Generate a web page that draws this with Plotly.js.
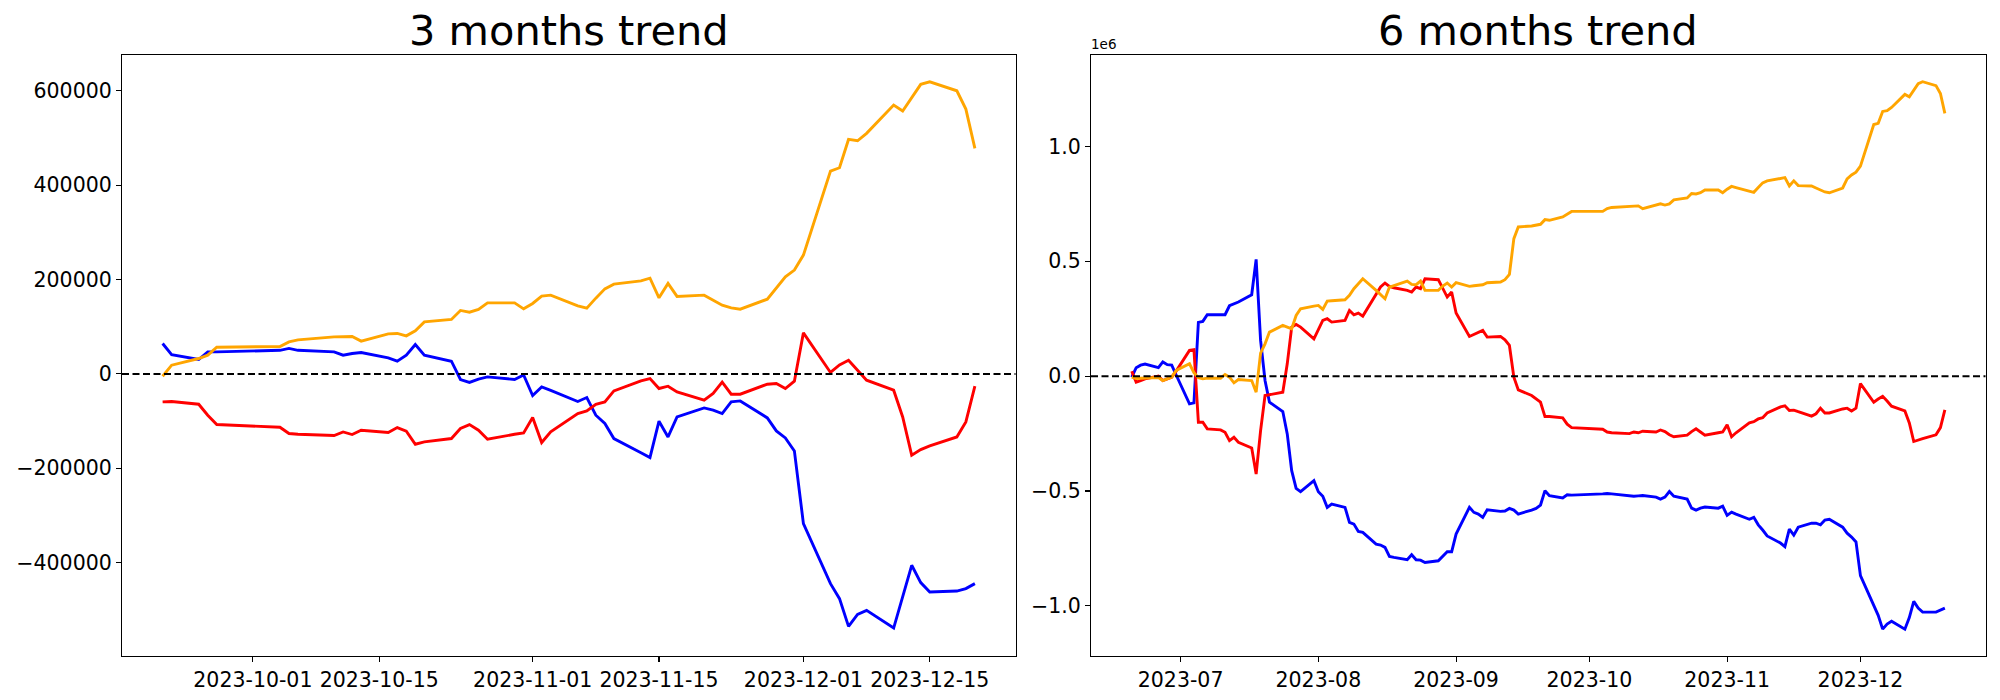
<!DOCTYPE html>
<html><head><meta charset="utf-8">
<script src="https://cdn.plot.ly/plotly-3.0.1.min.js"></script>
<style>html,body{margin:0;padding:0;background:#fff}#chart{width:2000px;height:700px}</style>
</head><body><div id="chart"></div><script>
// ---------- 3 months ----------
const dates3 = ['2023-09-21','2023-09-22','2023-09-25','2023-09-26','2023-09-27','2023-10-04','2023-10-05','2023-10-06','2023-10-10','2023-10-11','2023-10-12','2023-10-13','2023-10-16','2023-10-17','2023-10-18','2023-10-19','2023-10-20','2023-10-23','2023-10-24','2023-10-25','2023-10-26','2023-10-27','2023-10-30','2023-10-31','2023-11-01','2023-11-02','2023-11-03','2023-11-06','2023-11-07','2023-11-08','2023-11-09','2023-11-10','2023-11-13','2023-11-14','2023-11-15','2023-11-16','2023-11-17','2023-11-20','2023-11-21','2023-11-22','2023-11-23','2023-11-24','2023-11-27','2023-11-28','2023-11-29','2023-11-30','2023-12-01','2023-12-04','2023-12-05','2023-12-06','2023-12-07','2023-12-08','2023-12-11','2023-12-12','2023-12-13','2023-12-14','2023-12-15','2023-12-18','2023-12-19','2023-12-20'];
const blue3 = [64500,41000,30500,46700,46700,50000,54000,50000,46700,39700,43200,45300,34000,27000,39700,62300,39700,26900,-11900,-18200,-11200,-6400,-11900,-2100,-45800,-27600,-35000,-58500,-50100,-87600,-105200,-137000,-167000,-177300,-100300,-133600,-91200,-72100,-77000,-84000,-59400,-57300,-93300,-120900,-135700,-163300,-317300,-444600,-476400,-535100,-509700,-501200,-538700,-472000,-405700,-442400,-462400,-460300,-455200,-444600];
const orange3 = [-4900,18500,32600,39700,56600,58000,67900,72100,78500,79300,79300,69400,84800,85700,80600,91200,110300,115400,134500,130900,136600,150600,150600,137900,149300,164800,166900,144200,139400,160600,180300,190300,197300,203000,161200,191700,164200,166900,156300,145700,140000,137200,158400,181100,205700,220000,251800,430000,437000,497000,494200,509900,569900,557200,585000,613800,619300,600200,561400,478100];
const red3 = [-59400,-58500,-64300,-87600,-107400,-113000,-126400,-127900,-130700,-123000,-128500,-119400,-124300,-113700,-121500,-149100,-144200,-137000,-115800,-107400,-119400,-138500,-128000,-125100,-92500,-145500,-123000,-84000,-78500,-64300,-59400,-36100,-14800,-9800,-31000,-26100,-38200,-55800,-41600,-17600,-43100,-43100,-21800,-20400,-31000,-15500,87000,3000,19000,29000,7800,-13400,-34600,-91200,-172400,-160400,-152700,-133600,-101800,-26100];
const xticks3 = ['2023-10-01','2023-10-15','2023-11-01','2023-11-15','2023-12-01','2023-12-15'];
const xtickText3 = ['2023-10-01','2023-10-15','2023-11-01','2023-11-15','2023-12-01','2023-12-15'];
const yticks3 = [-400000,-200000,0,200000,400000,600000];
const ytickText3 = ['\u2212400000','\u2212200000','0','200000','400000','600000'];

// ---------- 6 months ----------
const dates6 = ['2023-06-20','2023-06-21','2023-06-22','2023-06-23','2023-06-26','2023-06-27','2023-06-28','2023-06-29','2023-06-30',
'2023-07-03','2023-07-04','2023-07-05','2023-07-06','2023-07-07','2023-07-10','2023-07-11','2023-07-12','2023-07-13','2023-07-14','2023-07-17','2023-07-18','2023-07-19','2023-07-20','2023-07-21','2023-07-24','2023-07-25','2023-07-26','2023-07-27','2023-07-28','2023-07-31',
'2023-08-01','2023-08-02','2023-08-03','2023-08-04','2023-08-07','2023-08-08','2023-08-09','2023-08-10','2023-08-11','2023-08-14','2023-08-15','2023-08-16','2023-08-17','2023-08-18','2023-08-21','2023-08-22','2023-08-23','2023-08-24','2023-08-25','2023-08-28','2023-08-29','2023-08-30','2023-08-31',
'2023-09-01','2023-09-04','2023-09-05','2023-09-06','2023-09-07','2023-09-08','2023-09-11','2023-09-12','2023-09-13','2023-09-14','2023-09-15','2023-09-18','2023-09-19','2023-09-20','2023-09-21','2023-09-22','2023-09-25','2023-09-26','2023-09-27',
'2023-10-04','2023-10-05','2023-10-06','2023-10-10','2023-10-11','2023-10-12','2023-10-13','2023-10-16','2023-10-17','2023-10-18','2023-10-19','2023-10-20','2023-10-23','2023-10-24','2023-10-25','2023-10-26','2023-10-27','2023-10-30','2023-10-31',
'2023-11-01','2023-11-02','2023-11-03','2023-11-06','2023-11-07','2023-11-08','2023-11-09','2023-11-10','2023-11-13','2023-11-14','2023-11-15','2023-11-16','2023-11-17','2023-11-20','2023-11-21','2023-11-22','2023-11-23','2023-11-24','2023-11-27','2023-11-28','2023-11-29','2023-11-30',
'2023-12-01','2023-12-04','2023-12-05','2023-12-06','2023-12-07','2023-12-08','2023-12-11','2023-12-12','2023-12-13','2023-12-14','2023-12-15','2023-12-18','2023-12-19','2023-12-20'];
const blue6 = [-4400,37000,48000,53000,37000,62000,50000,48000,5000,
-120400,-116100,234000,238400,267500,267400,267400,306600,315300,322600,354500,508600,155500,-18900,-113300,-154000,-251400,-411200,-488200,-502700,-454900,
-502700,-523000,-571000,-556500,-571000,-636400,-643700,-675600,-680000,-730800,-735200,-745400,-784600,-789000,-799100,-777300,-799100,-800600,-810800,-803500,-784600,-764300,-764300,
-687300,-571000,-592800,-600000,-614600,-581300,-588600,-587100,-575500,-582800,-600200,-582800,-575500,-560900,-498400,-520200,-530400,-516000,-517600,
-512400,-510700,-512400,-519300,-522700,-521000,-519300,-526200,-534800,-526200,-502100,-522700,-534800,-574600,-583200,-574600,-569400,-574600,-566000,
-605700,-591900,-600500,-623000,-614300,-647100,-669600,-695500,-726500,-742000,-666000,-691900,-657400,-640100,-640100,-647000,-626300,-622800,-657400,-683300,-700500,-721300,
-868100,-1002800,-1040800,-1101200,-1078800,-1066700,-1101200,-1051000,-980400,-1009700,-1027000,-1027000,-1018300,-1009700];
const orange6 = [-4400,-10000,-9000,-8000,-6000,-19000,-10000,-4000,25000,
54000,15000,-7000,-11700,-8700,-8700,7300,-4400,-29100,-14500,-18900,-69700,100300,140900,191800,220900,213600,206300,264400,293500,305100,
308000,290600,326900,328400,332700,351600,380700,402500,424300,373400,356000,337100,387900,395200,414100,399600,398100,414100,373400,373400,392300,405400,387900,
406800,390900,393800,395200,398100,406800,409700,419900,443200,598600,649500,653800,656700,661100,681400,678500,693100,704000,717200,
717200,729300,734500,739700,740500,741400,729300,744800,750000,744800,750000,767300,775900,794900,793200,798400,810500,810500,798400,
813900,826000,820800,807000,800100,820800,841500,850200,858800,864000,827700,850200,829500,827700,819100,808700,801800,798400,819100,858800,876100,888200,
914100,1095400,1100600,1152400,1155900,1169700,1226700,1216300,1247400,1273300,1281900,1264700,1230200,1143900];
const red6 = [21800,-26100,-19000,-11700,0,-19000,-11700,-4400,22000,
112000,115000,-200500,-200500,-229300,-233900,-244100,-280400,-265900,-287700,-312400,-425700,-236800,-84300,-79900,-69700,53800,213600,225200,213600,162700,
203400,242700,249900,235400,242700,286200,267400,274600,261500,358900,388000,405400,390900,385000,373400,366200,388000,380700,424300,419900,380700,344400,366200,
274600,172900,181600,191800,199100,170000,172900,158400,133700,-4400,-59600,-84300,-98800,-113300,-175800,-175800,-181600,-209000,-224000,
-230900,-243000,-246400,-249900,-243000,-246400,-239500,-243000,-234300,-241300,-255100,-263700,-256800,-241300,-229200,-243000,-256800,-246400,-243000,
-211900,-263700,-246400,-203300,-198100,-186000,-180800,-160100,-134000,-128900,-149600,-147900,-154800,-173900,-163500,-139300,-160100,-160100,-142800,-139300,-151400,-139300,
-32300,-113400,-99600,-87500,-108200,-130700,-151400,-203300,-284400,-277500,-272300,-255100,-224000,-146300];
const xticks6 = ['2023-07-01','2023-08-01','2023-09-01','2023-10-01','2023-11-01','2023-12-01'];
const xtickText6 = ['2023-07','2023-08','2023-09','2023-10','2023-11','2023-12'];
const yticks6 = [-1000000,-500000,0,500000,1000000];
const ytickText6 = ['\u22121.0','\u22120.5','0.0','0.5','1.0'];

const titles = ['3 months trend','6 months trend'];
const seriesColors = ['blue','red','orange'];

const FONT = 'DejaVu Sans, Liberation Sans, sans-serif';
const LW = 2.9;

function mk(x, y, color, xa, ya) {
  return {x: x, y: y, type: 'scatter', mode: 'lines', line: {color: color, width: LW}, xaxis: xa, yaxis: ya, hoverinfo: 'skip', showlegend: false};
}
const traces = [
  mk(dates3, blue3, seriesColors[0], 'x', 'y'),
  mk(dates3, red3, seriesColors[1], 'x', 'y'),
  mk(dates3, orange3, seriesColors[2], 'x', 'y'),
  mk(dates6, blue6, seriesColors[0], 'x2', 'y2'),
  mk(dates6, red6, seriesColors[1], 'x2', 'y2'),
  mk(dates6, orange6, seriesColors[2], 'x2', 'y2')
];

const axBase = {
  showline: true, mirror: true, linecolor: 'black', linewidth: 1.1,
  ticks: 'outside', ticklen: 5, tickwidth: 1.1, tickcolor: 'black',
  showgrid: false, zeroline: false, automargin: false,
  tickfont: {family: FONT, size: 20.5, color: 'black'}
};
const yDom = [1 - 656/700, 1 - 55/700];

const layout = {
  width: 2000, height: 700,
  margin: {l: 0, r: 0, t: 0, b: 0},
  paper_bgcolor: 'white', plot_bgcolor: 'white',
  font: {family: FONT, color: 'black'},
  showlegend: false,
  xaxis: Object.assign({}, axBase, {type: 'date', domain: [122/2000, 1015.5/2000], range: ['2023-09-16 12:00', '2023-12-24 12:00'], tickvals: xticks3, ticktext: xtickText3, anchor: 'y'}),
  yaxis: Object.assign({}, axBase, {domain: yDom, range: [-598000, 676000], tickvals: yticks3, ticktext: ytickText3, anchor: 'x'}),
  xaxis2: Object.assign({}, axBase, {type: 'date', domain: [1091/2000, 1985.5/2000], range: ['2023-06-10 20:00', '2023-12-29 03:30'], tickvals: xticks6, ticktext: xtickText6, anchor: 'y2'}),
  yaxis2: Object.assign({}, axBase, {domain: yDom, range: [-1218000, 1398000], tickvals: yticks6, ticktext: ytickText6, anchor: 'x2'}),
  shapes: [
    {type: 'line', xref: 'x domain', yref: 'y', x0: 0, x1: 1, y0: 0, y1: 0, line: {color: 'black', width: 2, dash: '7px,3.5px'}, layer: 'above'},
    {type: 'line', xref: 'x2 domain', yref: 'y2', x0: 0, x1: 1, y0: 0, y1: 0, line: {color: 'black', width: 2, dash: '7px,3.5px'}, layer: 'above'}
  ],
  annotations: [
    {text: titles[0], xref: 'x domain', yref: 'y domain', x: 0.5, y: 1, xanchor: 'center', yanchor: 'bottom', yshift: -2, showarrow: false, font: {family: FONT, size: 41.5, color: 'black'}},
    {text: titles[1], xref: 'x2 domain', yref: 'y2 domain', x: 0.5, y: 1, xanchor: 'center', yanchor: 'bottom', yshift: -2, showarrow: false, font: {family: FONT, size: 41.5, color: 'black'}},
    {text: '1e6', xref: 'x2 domain', yref: 'y2 domain', x: 0, y: 1, xanchor: 'left', yanchor: 'bottom', xshift: -2, yshift: 1, showarrow: false, font: {family: FONT, size: 13.5, color: 'black'}}
  ]
};

Plotly.newPlot('chart', traces, layout, {staticPlot: true, displayModeBar: false});
</script></body></html>
